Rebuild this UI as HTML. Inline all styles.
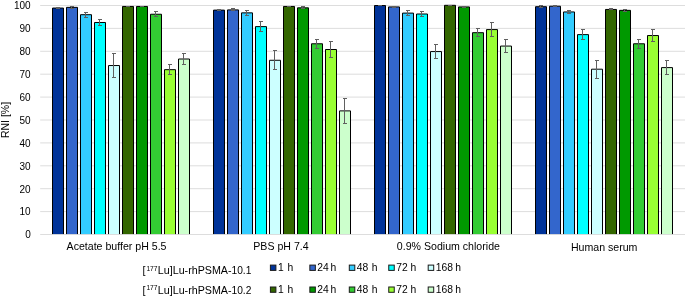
<!DOCTYPE html>
<html><head><meta charset="utf-8"><title>RNI chart</title>
<style>html,body{margin:0;padding:0;background:#fff}svg{display:block}text{font-family:"Liberation Sans",Arial,sans-serif;fill:#000}</style></head><body>
<svg width="685" height="297" viewBox="0 0 685 297">
<rect width="685" height="297" fill="#fff"/>
<text x="30.7" y="238.30" font-size="10" text-anchor="end">0</text>
<line x1="40.2" x2="685" y1="211.60" y2="211.60" stroke="#D9D9D9" stroke-width="0.9"/>
<text x="30.7" y="215.40" font-size="10" text-anchor="end">10</text>
<line x1="40.2" x2="685" y1="188.70" y2="188.70" stroke="#D9D9D9" stroke-width="0.9"/>
<text x="30.7" y="192.50" font-size="10" text-anchor="end">20</text>
<line x1="40.2" x2="685" y1="165.80" y2="165.80" stroke="#D9D9D9" stroke-width="0.9"/>
<text x="30.7" y="169.60" font-size="10" text-anchor="end">30</text>
<line x1="40.2" x2="685" y1="142.90" y2="142.90" stroke="#D9D9D9" stroke-width="0.9"/>
<text x="30.7" y="146.70" font-size="10" text-anchor="end">40</text>
<line x1="40.2" x2="685" y1="120.00" y2="120.00" stroke="#D9D9D9" stroke-width="0.9"/>
<text x="30.7" y="123.80" font-size="10" text-anchor="end">50</text>
<line x1="40.2" x2="685" y1="97.10" y2="97.10" stroke="#D9D9D9" stroke-width="0.9"/>
<text x="30.7" y="100.90" font-size="10" text-anchor="end">60</text>
<line x1="40.2" x2="685" y1="74.20" y2="74.20" stroke="#D9D9D9" stroke-width="0.9"/>
<text x="30.7" y="78.00" font-size="10" text-anchor="end">70</text>
<line x1="40.2" x2="685" y1="51.30" y2="51.30" stroke="#D9D9D9" stroke-width="0.9"/>
<text x="30.7" y="55.10" font-size="10" text-anchor="end">80</text>
<line x1="40.2" x2="685" y1="28.40" y2="28.40" stroke="#D9D9D9" stroke-width="0.9"/>
<text x="30.7" y="32.20" font-size="10" text-anchor="end">90</text>
<line x1="40.2" x2="685" y1="5.50" y2="5.50" stroke="#D9D9D9" stroke-width="0.9"/>
<text x="30.7" y="9.30" font-size="10" text-anchor="end">100</text>
<path d="M52.50 234.5V8.06H63.50V234.5" fill="#003399" stroke="#000" stroke-width="1"/>
<path d="M66.50 234.5V7.37H77.50V234.5" fill="#3366CC" stroke="#000" stroke-width="1"/>
<path d="M80.50 234.5V14.70H91.50V234.5" fill="#33CCFF" stroke="#000" stroke-width="1"/>
<path d="M94.50 234.5V22.49H105.50V234.5" fill="#00FFFF" stroke="#000" stroke-width="1"/>
<path d="M108.50 234.5V65.54H119.50V234.5" fill="#CCFFFF" stroke="#000" stroke-width="1"/>
<path d="M122.50 234.5V6.46H133.50V234.5" fill="#336600" stroke="#000" stroke-width="1"/>
<path d="M136.50 234.5V6.46H147.50V234.5" fill="#009900" stroke="#000" stroke-width="1"/>
<path d="M150.50 234.5V14.24H161.50V234.5" fill="#33CC33" stroke="#000" stroke-width="1"/>
<path d="M164.50 234.5V69.66H175.50V234.5" fill="#99FF33" stroke="#000" stroke-width="1"/>
<path d="M178.50 234.5V59.01H189.50V234.5" fill="#CCFFCC" stroke="#000" stroke-width="1"/>
<path d="M213.50 234.5V10.12H224.50V234.5" fill="#003399" stroke="#000" stroke-width="1"/>
<path d="M227.50 234.5V9.89H238.50V234.5" fill="#3366CC" stroke="#000" stroke-width="1"/>
<path d="M241.50 234.5V12.87H252.50V234.5" fill="#33CCFF" stroke="#000" stroke-width="1"/>
<path d="M255.50 234.5V26.61H266.50V234.5" fill="#00FFFF" stroke="#000" stroke-width="1"/>
<path d="M269.50 234.5V60.27H280.50V234.5" fill="#CCFFFF" stroke="#000" stroke-width="1"/>
<path d="M283.50 234.5V6.46H294.50V234.5" fill="#336600" stroke="#000" stroke-width="1"/>
<path d="M297.50 234.5V7.83H308.50V234.5" fill="#009900" stroke="#000" stroke-width="1"/>
<path d="M311.50 234.5V43.78H322.50V234.5" fill="#33CC33" stroke="#000" stroke-width="1"/>
<path d="M325.50 234.5V49.51H336.50V234.5" fill="#99FF33" stroke="#000" stroke-width="1"/>
<path d="M339.50 234.5V110.88H350.50V234.5" fill="#CCFFCC" stroke="#000" stroke-width="1"/>
<path d="M374.50 234.5V5.54H385.50V234.5" fill="#003399" stroke="#000" stroke-width="1"/>
<path d="M388.50 234.5V6.92H399.50V234.5" fill="#3366CC" stroke="#000" stroke-width="1"/>
<path d="M402.50 234.5V13.10H413.50V234.5" fill="#33CCFF" stroke="#000" stroke-width="1"/>
<path d="M416.50 234.5V14.01H427.50V234.5" fill="#00FFFF" stroke="#000" stroke-width="1"/>
<path d="M430.50 234.5V51.57H441.50V234.5" fill="#CCFFFF" stroke="#000" stroke-width="1"/>
<path d="M444.50 234.5V5.31H455.50V234.5" fill="#336600" stroke="#000" stroke-width="1"/>
<path d="M458.50 234.5V6.92H469.50V234.5" fill="#009900" stroke="#000" stroke-width="1"/>
<path d="M472.50 234.5V32.68H483.50V234.5" fill="#33CC33" stroke="#000" stroke-width="1"/>
<path d="M486.50 234.5V29.59H497.50V234.5" fill="#99FF33" stroke="#000" stroke-width="1"/>
<path d="M500.50 234.5V46.07H511.50V234.5" fill="#CCFFCC" stroke="#000" stroke-width="1"/>
<path d="M535.50 234.5V6.69H546.50V234.5" fill="#003399" stroke="#000" stroke-width="1"/>
<path d="M549.50 234.5V6.23H560.50V234.5" fill="#3366CC" stroke="#000" stroke-width="1"/>
<path d="M563.50 234.5V11.95H574.50V234.5" fill="#33CCFF" stroke="#000" stroke-width="1"/>
<path d="M577.50 234.5V34.62H588.50V234.5" fill="#00FFFF" stroke="#000" stroke-width="1"/>
<path d="M591.50 234.5V69.20H602.50V234.5" fill="#CCFFFF" stroke="#000" stroke-width="1"/>
<path d="M605.50 234.5V9.44H616.50V234.5" fill="#336600" stroke="#000" stroke-width="1"/>
<path d="M619.50 234.5V10.35H630.50V234.5" fill="#009900" stroke="#000" stroke-width="1"/>
<path d="M633.50 234.5V43.78H644.50V234.5" fill="#33CC33" stroke="#000" stroke-width="1"/>
<path d="M647.50 234.5V35.54H658.50V234.5" fill="#99FF33" stroke="#000" stroke-width="1"/>
<path d="M661.50 234.5V67.60H672.50V234.5" fill="#CCFFCC" stroke="#000" stroke-width="1"/>
<path d="M57.50 7.50V8.50M56.00 7.50h4M56.00 8.50h4" stroke="#606060" stroke-width="1" fill="none"/>
<path d="M71.50 6.50V8.50M70.00 6.50h4M70.00 8.50h4" stroke="#606060" stroke-width="1" fill="none"/>
<path d="M85.50 12.50V17.50M84.00 12.50h4M84.00 17.50h4" stroke="#606060" stroke-width="1" fill="none"/>
<path d="M99.50 19.50V25.50M98.00 19.50h4M98.00 25.50h4" stroke="#606060" stroke-width="1" fill="none"/>
<path d="M113.50 53.50V77.50M112.00 53.50h4M112.00 77.50h4" stroke="#606060" stroke-width="1" fill="none"/>
<path d="M127.50 6.50V6.50M126.00 6.50h4M126.00 6.50h4" stroke="#606060" stroke-width="1" fill="none"/>
<path d="M141.50 6.50V6.50M140.00 6.50h4M140.00 6.50h4" stroke="#606060" stroke-width="1" fill="none"/>
<path d="M155.50 11.50V16.50M154.00 11.50h4M154.00 16.50h4" stroke="#606060" stroke-width="1" fill="none"/>
<path d="M169.50 64.50V74.50M168.00 64.50h4M168.00 74.50h4" stroke="#606060" stroke-width="1" fill="none"/>
<path d="M183.50 53.50V64.50M182.00 53.50h4M182.00 64.50h4" stroke="#606060" stroke-width="1" fill="none"/>
<path d="M218.50 9.50V10.50M217.00 9.50h4M217.00 10.50h4" stroke="#606060" stroke-width="1" fill="none"/>
<path d="M232.50 8.50V10.50M231.00 8.50h4M231.00 10.50h4" stroke="#606060" stroke-width="1" fill="none"/>
<path d="M246.50 10.50V15.50M245.00 10.50h4M245.00 15.50h4" stroke="#606060" stroke-width="1" fill="none"/>
<path d="M260.50 21.50V31.50M259.00 21.50h4M259.00 31.50h4" stroke="#606060" stroke-width="1" fill="none"/>
<path d="M274.50 50.50V69.50M273.00 50.50h4M273.00 69.50h4" stroke="#606060" stroke-width="1" fill="none"/>
<path d="M288.50 6.50V6.50M287.00 6.50h4M287.00 6.50h4" stroke="#606060" stroke-width="1" fill="none"/>
<path d="M302.50 6.50V8.50M301.00 6.50h4M301.00 8.50h4" stroke="#606060" stroke-width="1" fill="none"/>
<path d="M316.50 39.50V48.50M315.00 39.50h4M315.00 48.50h4" stroke="#606060" stroke-width="1" fill="none"/>
<path d="M330.50 41.50V57.50M329.00 41.50h4M329.00 57.50h4" stroke="#606060" stroke-width="1" fill="none"/>
<path d="M344.50 98.50V123.50M343.00 98.50h4M343.00 123.50h4" stroke="#606060" stroke-width="1" fill="none"/>
<path d="M379.50 5.50V5.50M378.00 5.50h4M378.00 5.50h4" stroke="#606060" stroke-width="1" fill="none"/>
<path d="M393.50 6.50V7.50M392.00 6.50h4M392.00 7.50h4" stroke="#606060" stroke-width="1" fill="none"/>
<path d="M407.50 10.50V15.50M406.00 10.50h4M406.00 15.50h4" stroke="#606060" stroke-width="1" fill="none"/>
<path d="M421.50 11.50V16.50M420.00 11.50h4M420.00 16.50h4" stroke="#606060" stroke-width="1" fill="none"/>
<path d="M435.50 44.50V58.50M434.00 44.50h4M434.00 58.50h4" stroke="#606060" stroke-width="1" fill="none"/>
<path d="M449.50 5.50V5.50M448.00 5.50h4M448.00 5.50h4" stroke="#606060" stroke-width="1" fill="none"/>
<path d="M463.50 6.50V7.50M462.00 6.50h4M462.00 7.50h4" stroke="#606060" stroke-width="1" fill="none"/>
<path d="M477.50 28.50V36.50M476.00 28.50h4M476.00 36.50h4" stroke="#606060" stroke-width="1" fill="none"/>
<path d="M491.50 22.50V36.50M490.00 22.50h4M490.00 36.50h4" stroke="#606060" stroke-width="1" fill="none"/>
<path d="M505.50 39.50V52.50M504.00 39.50h4M504.00 52.50h4" stroke="#606060" stroke-width="1" fill="none"/>
<path d="M540.50 5.50V7.50M539.00 5.50h4M539.00 7.50h4" stroke="#606060" stroke-width="1" fill="none"/>
<path d="M554.50 5.50V6.50M553.00 5.50h4M553.00 6.50h4" stroke="#606060" stroke-width="1" fill="none"/>
<path d="M568.50 10.50V13.50M567.00 10.50h4M567.00 13.50h4" stroke="#606060" stroke-width="1" fill="none"/>
<path d="M582.50 29.50V39.50M581.00 29.50h4M581.00 39.50h4" stroke="#606060" stroke-width="1" fill="none"/>
<path d="M596.50 60.50V78.50M595.00 60.50h4M595.00 78.50h4" stroke="#606060" stroke-width="1" fill="none"/>
<path d="M610.50 8.50V9.50M609.00 8.50h4M609.00 9.50h4" stroke="#606060" stroke-width="1" fill="none"/>
<path d="M624.50 9.50V11.50M623.00 9.50h4M623.00 11.50h4" stroke="#606060" stroke-width="1" fill="none"/>
<path d="M638.50 39.50V48.50M637.00 39.50h4M637.00 48.50h4" stroke="#606060" stroke-width="1" fill="none"/>
<path d="M652.50 29.50V41.50M651.00 29.50h4M651.00 41.50h4" stroke="#606060" stroke-width="1" fill="none"/>
<path d="M666.50 60.50V74.50M665.00 60.50h4M665.00 74.50h4" stroke="#606060" stroke-width="1" fill="none"/>
<line x1="40.2" x2="685" y1="234.5" y2="234.5" stroke="#D9D9D9" stroke-width="0.9"/>
<text x="116.55" y="249.7" font-size="10.6" text-anchor="middle">Acetate buffer pH 5.5</text>
<text x="280.95" y="249.7" font-size="10.6" text-anchor="middle">PBS pH 7.4</text>
<text x="448.40" y="250.0" font-size="10.6" text-anchor="middle">0.9% Sodium chloride</text>
<text x="604.15" y="250.6" font-size="10.6" text-anchor="middle">Human serum</text>
<text transform="translate(9.2,120) rotate(-90)" font-size="10.5" text-anchor="middle">RNI [%]</text>
<text x="142.6" y="274.40" font-size="10.7">[<tspan font-size="6.7" dy="-3.9" dx="0.8">177</tspan><tspan dy="3.9" dx="0.3">Lu]Lu-rhPSMA-</tspan><tspan font-size="10.2">10.1</tspan></text>
<rect x="270.40" y="265.10" width="5.5" height="5.3" fill="#003399" stroke="#1a1a1a" stroke-width="1"/>
<text x="277.90" y="270.90" font-size="10.3">1<tspan dx="1.0"> h</tspan></text>
<rect x="309.85" y="265.10" width="5.5" height="5.3" fill="#3366CC" stroke="#1a1a1a" stroke-width="1"/>
<text x="317.35" y="270.90" font-size="10.3">24<tspan dx="-1.1"> h</tspan></text>
<rect x="349.30" y="265.10" width="5.5" height="5.3" fill="#33CCFF" stroke="#1a1a1a" stroke-width="1"/>
<text x="356.80" y="270.90" font-size="10.3">48<tspan dx="0.5"> h</tspan></text>
<rect x="388.75" y="265.10" width="5.5" height="5.3" fill="#00FFFF" stroke="#1a1a1a" stroke-width="1"/>
<text x="396.25" y="270.90" font-size="10.3">72<tspan dx="-0.2"> h</tspan></text>
<rect x="428.20" y="265.10" width="5.5" height="5.3" fill="#CCFFFF" stroke="#1a1a1a" stroke-width="1"/>
<text x="435.70" y="270.90" font-size="10.3">168<tspan dx="-0.4"> h</tspan></text>
<text x="142.6" y="293.80" font-size="10.7">[<tspan font-size="6.7" dy="-3.9" dx="0.8">177</tspan><tspan dy="3.9" dx="0.3">Lu]Lu-rhPSMA-</tspan><tspan font-size="10.2">10.2</tspan></text>
<rect x="270.40" y="287.00" width="5.5" height="5.3" fill="#336600" stroke="#1a1a1a" stroke-width="1"/>
<text x="277.90" y="292.80" font-size="10.3">1<tspan dx="1.0"> h</tspan></text>
<rect x="309.85" y="287.00" width="5.5" height="5.3" fill="#009900" stroke="#1a1a1a" stroke-width="1"/>
<text x="317.35" y="292.80" font-size="10.3">24<tspan dx="-1.1"> h</tspan></text>
<rect x="349.30" y="287.00" width="5.5" height="5.3" fill="#33CC33" stroke="#1a1a1a" stroke-width="1"/>
<text x="356.80" y="292.80" font-size="10.3">48<tspan dx="0.5"> h</tspan></text>
<rect x="388.75" y="287.00" width="5.5" height="5.3" fill="#99FF33" stroke="#1a1a1a" stroke-width="1"/>
<text x="396.25" y="292.80" font-size="10.3">72<tspan dx="-0.2"> h</tspan></text>
<rect x="428.20" y="287.00" width="5.5" height="5.3" fill="#CCFFCC" stroke="#1a1a1a" stroke-width="1"/>
<text x="435.70" y="292.80" font-size="10.3">168<tspan dx="-0.4"> h</tspan></text>
</svg></body></html>
